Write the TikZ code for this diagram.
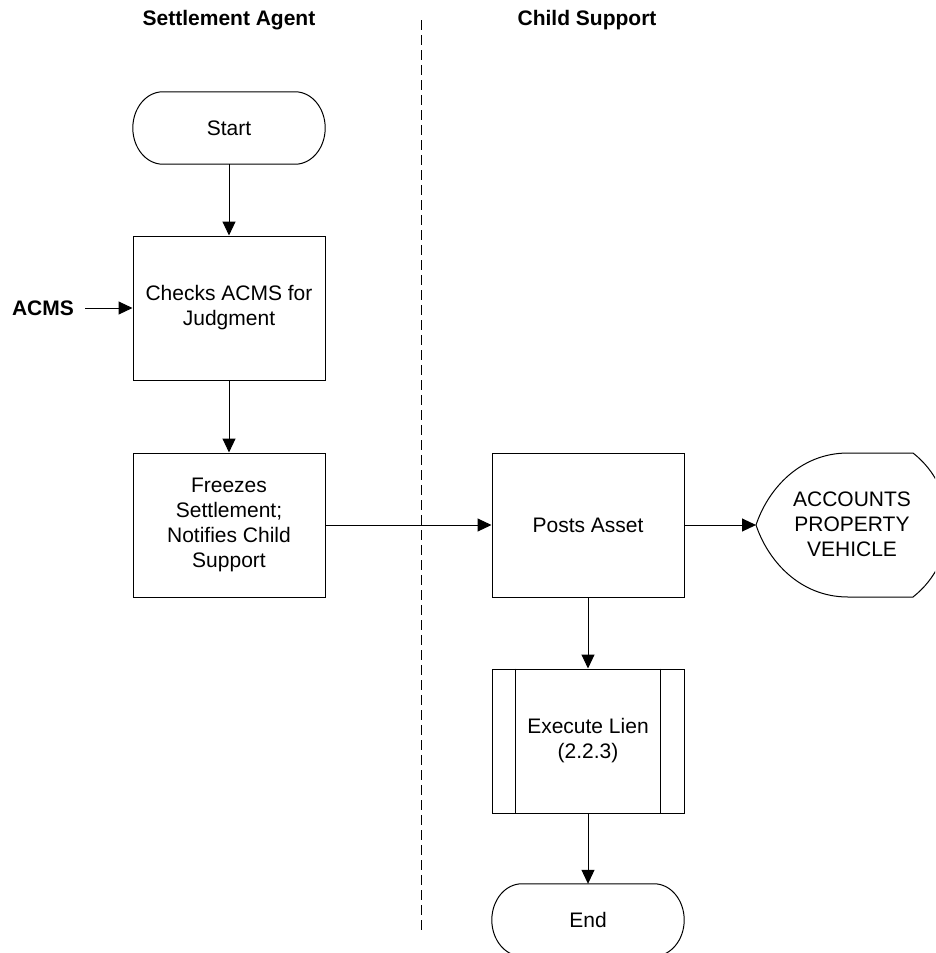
\documentclass[tikz,border=0pt]{standalone}
\usepackage{fontspec}
\setmainfont{Liberation Sans}
\usetikzlibrary{arrows.meta}
\newcommand{\myterm}[1]{\draw[outline] ([xshift=30pt]#1.north west) -- ([xshift=-30pt]#1.north east)
  .. controls +(16.6,0) and +(0,-19.9) .. (#1.east)
  .. controls +(0,19.9) and +(16.6,0) .. ([xshift=-30pt]#1.south east)
  -- ([xshift=30pt]#1.south west)
  .. controls +(-16.6,0) and +(0,19.9) .. (#1.west)
  .. controls +(0,-19.9) and +(-16.6,0) .. ([xshift=30pt]#1.north west) -- cycle;}
\begin{document}
\begin{tikzpicture}[x=1pt,y=-1pt,
  every node/.style={font=\fontsize{21}{25}\selectfont, align=center, inner sep=0pt},
  box/.style={draw, line width=1pt, minimum width=192pt, minimum height=144pt},
  term/.style={minimum width=192pt, minimum height=72pt},
  title/.style={font=\fontsize{21}{25}\selectfont\bfseries},
  conn/.style={line width=1pt, -{Triangle[length=14pt,width=13pt]}},
  outline/.style={line width=1pt},
]
\useasboundingbox (0,0) rectangle (935,953);
\clip (0,0) rectangle (935,953);
% lane titles and divider
\node[title] (t1) at (229,20) {Settlement Agent};
\node[title] (t2) at (587,20) {Child Support};
\coordinate (lt) at (421,20);
\coordinate (lb) at (421,930);
\draw[line width=1pt, dash pattern=on 10pt off 5pt] (lt) -- (lb);
% nodes
\node[term] (start) at (229,128) {Start};
\myterm{start}
\node[box] (check) at (229,308) {Checks ACMS for\\Judgment};
\node[box] (freeze) at (229,525) {Freezes\\Settlement;\\Notifies Child\\Support};
\node[box] (post) at (588,525) {Posts Asset};
\node[box] (lien) at (588,741) {Execute Lien\\(2.2.3)};
\draw[outline] ([xshift=24pt]lien.north west) -- ([xshift=24pt]lien.south west);
\draw[outline] ([xshift=-24pt]lien.north east) -- ([xshift=-24pt]lien.south east);
\node[term] (end) at (588,920) {End};
\myterm{end}
\node[title] (acms) at (43,308) {ACMS};
% display shape
\draw[outline] (848,453) -- (913,453) .. controls (959.6,489.6) and (959.6,560.4) .. (913,597)
  -- (848,597) .. controls (800,597) and (768,561) .. (756,525)
  .. controls (768,489) and (800,453) .. (848,453) -- cycle;
\coordinate (dispL) at (756,525);
\node (disp) at (852,524) {ACCOUNTS\\PROPERTY\\VEHICLE};
% connectors
\draw[conn] (start.south) -- (check.north);
\draw[conn] ([xshift=11pt]acms.east) -- (check.west);
\draw[conn] (check.south) -- (freeze.north);
\draw[conn] (freeze.east) -- (post.west);
\draw[conn] (post.east) -- (dispL);
\draw[conn] (post.south) -- (lien.north);
\draw[conn] (lien.south) -- (end.north);
\end{tikzpicture}
\end{document}
